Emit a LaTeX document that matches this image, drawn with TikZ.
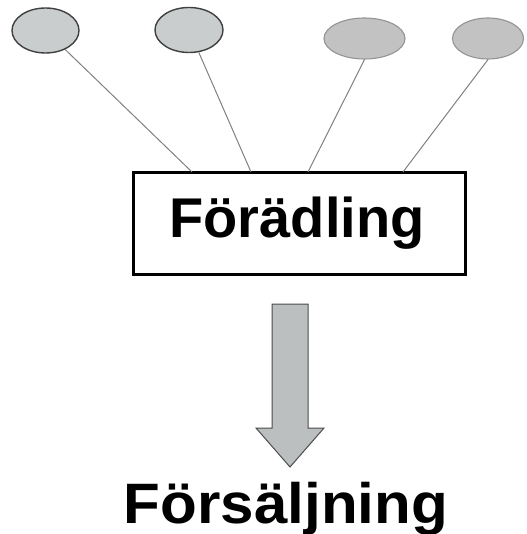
\documentclass[tikz,border=0pt]{standalone}
\usepackage{fontspec}
\setmainfont{Liberation Sans}
\usetikzlibrary{shapes.geometric}
\definecolor{darkoval}{HTML}{C9CDCD}
\definecolor{lightoval}{HTML}{C2C2C2}
\definecolor{arrowfill}{HTML}{BBBFBF}
\tikzset{
  ovA/.style={ellipse, draw=black!75, line width=1.4pt, fill=darkoval, inner sep=0pt},
  ovB/.style={ellipse, draw=black!42, line width=1.1pt, fill=lightoval, inner sep=0pt},
  link/.style={draw=black!50, line width=1pt},
  big/.style={font=\fontsize{56}{60}\selectfont\bfseries, inner sep=0pt, anchor=base}
}
\begin{document}
\begin{tikzpicture}[x=1pt,y=-1pt]
\useasboundingbox (0,0) rectangle (526,534);
\node[ovA, minimum width=67pt, minimum height=45pt] (e1) at (45.5,30.5) {};
\node[ovA, minimum width=68pt, minimum height=45pt] (e2) at (189,30) {};
\node[ovB, minimum width=81pt, minimum height=41pt] (e3) at (364.5,38.5) {};
\node[ovB, minimum width=71pt, minimum height=41pt] (e4) at (488,38.5) {};
\node[draw=black, line width=2.6pt, minimum width=332pt, minimum height=102pt, inner sep=0pt] (box) at (299.5,223.5) {};
\coordinate (c1) at (192,172);
\coordinate (c2) at (251,172);
\coordinate (c3) at (308,172);
\coordinate (c4) at (403,172);
\draw[link] (e1) -- (c1);
\draw[link] (e2) -- (c2);
\draw[link] (e3.south) -- (c3);
\draw[link] (e4.south) -- (c4);
\node[big] (t1) at (297,237) {Förädling};
\draw[draw=black!70, line width=1pt, fill=arrowfill]
  (272,304) -- (308,304) -- (308,428) -- (324,428) -- (290,467) -- (256,428) -- (272,428) -- cycle;
\node[big, font=\fontsize{57}{60}\selectfont\bfseries] (t2) at (286,523) {\scalebox{1.055}[1]{Försäljning}};
\end{tikzpicture}
\end{document}
